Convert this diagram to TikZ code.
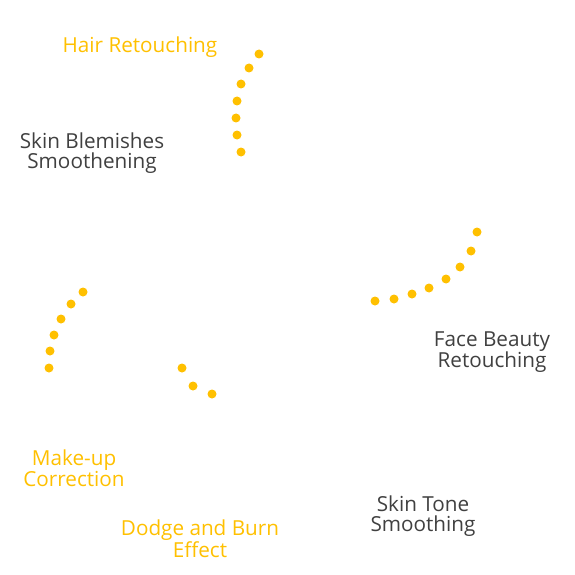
\documentclass[tikz,border=0pt]{standalone}
\usepackage{fontspec}
\setmainfont{Open Sans}
\definecolor{goldy}{HTML}{FFC000}
\definecolor{inkgray}{HTML}{404040}
\tikzset{
  topic/.style={align=center,font=\fontsize{20.7}{20}\selectfont,inner sep=0pt},
  gold topic/.style={topic,text=goldy},
  gray topic/.style={topic,text=inkgray},
  bead/.style={fill=goldy,draw=none}
}
\begin{document}
\begin{tikzpicture}[x=1pt,y=-1pt]
\useasboundingbox (0,0) rectangle (575,575);

\node[gold topic] (hair) at (140,47) {Hair Retouching};
\node[gray topic] (skinblem) at (92,153) {Skin Blemishes\\Smoothening};
\node[gray topic] (face) at (492,352) {Face Beauty\\Retouching};
\node[gold topic] (makeup) at (74,468) {Make-up\\Correction};
\node[gold topic] (dodge) at (200,539) {Dodge and Burn\\Effect};
\node[gray topic] (tone) at (423,516) {Skin Tone\\Smoothing};

% dotted arcs
\foreach \p in {(259,54),(249,68),(241,84),(237,101),(236,118),(237,135),(241,152)}
  \fill[bead] \p circle (4.5);
\foreach \p in {(477,232),(471,251),(460,267),(446,279),(429,288),(412,294),(394,299),(375,301)}
  \fill[bead] \p circle (4.5);
\foreach \p in {(83,292),(71,304),(61,319),(54,335),(50,351),(49,368)}
  \fill[bead] \p circle (4.5);
\foreach \p in {(182,368),(193,386),(212,394)}
  \fill[bead] \p circle (4.5);
\end{tikzpicture}
\end{document}
